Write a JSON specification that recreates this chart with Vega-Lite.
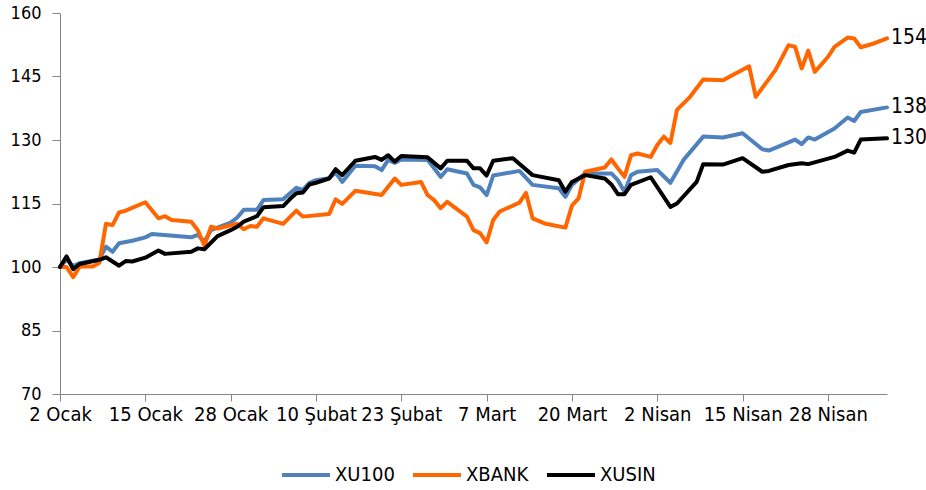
{
  "$schema": "https://vega.github.io/schema/vega-lite/v6.json",
  "width": 827,
  "height": 381,
  "autosize": "none",
  "padding": {"left": 60, "top": 13, "right": 39, "bottom": 96},
  "background": "white",
  "config": {
    "view": {"stroke": null},
    "font": "DejaVu Sans Condensed",
    "axis": {"labelFont": "DejaVu Sans Condensed", "labelColor": "#000000", "domainColor": "#868686", "tickColor": "#868686", "grid": false},
    "legend": {"labelFont": "DejaVu Sans Condensed"}
  },
  "datasets": {
    "series": [
      {"series": "XU100", "date": "2024-01-02", "value": 100},
      {"series": "XU100", "date": "2024-01-03", "value": 101.8},
      {"series": "XU100", "date": "2024-01-04", "value": 100.2},
      {"series": "XU100", "date": "2024-01-05", "value": 100.9},
      {"series": "XU100", "date": "2024-01-08", "value": 101.8},
      {"series": "XU100", "date": "2024-01-09", "value": 104.8},
      {"series": "XU100", "date": "2024-01-10", "value": 103.6},
      {"series": "XU100", "date": "2024-01-11", "value": 105.6},
      {"series": "XU100", "date": "2024-01-13", "value": 106.2},
      {"series": "XU100", "date": "2024-01-15", "value": 107.0},
      {"series": "XU100", "date": "2024-01-16", "value": 107.8},
      {"series": "XU100", "date": "2024-01-22", "value": 107.0},
      {"series": "XU100", "date": "2024-01-23", "value": 107.6},
      {"series": "XU100", "date": "2024-01-24", "value": 106.0},
      {"series": "XU100", "date": "2024-01-25", "value": 108.7},
      {"series": "XU100", "date": "2024-01-28", "value": 110.5},
      {"series": "XU100", "date": "2024-01-29", "value": 111.7},
      {"series": "XU100", "date": "2024-01-30", "value": 113.5},
      {"series": "XU100", "date": "2024-02-01", "value": 113.5},
      {"series": "XU100", "date": "2024-02-02", "value": 115.8},
      {"series": "XU100", "date": "2024-02-05", "value": 116.0},
      {"series": "XU100", "date": "2024-02-07", "value": 118.7},
      {"series": "XU100", "date": "2024-02-08", "value": 118.2},
      {"series": "XU100", "date": "2024-02-09", "value": 119.9},
      {"series": "XU100", "date": "2024-02-10", "value": 120.5},
      {"series": "XU100", "date": "2024-02-12", "value": 121.0},
      {"series": "XU100", "date": "2024-02-13", "value": 122.3},
      {"series": "XU100", "date": "2024-02-14", "value": 120.1},
      {"series": "XU100", "date": "2024-02-16", "value": 123.9},
      {"series": "XU100", "date": "2024-02-19", "value": 123.8},
      {"series": "XU100", "date": "2024-02-20", "value": 122.9},
      {"series": "XU100", "date": "2024-02-21", "value": 125.3},
      {"series": "XU100", "date": "2024-02-22", "value": 124.6},
      {"series": "XU100", "date": "2024-02-23", "value": 125.4},
      {"series": "XU100", "date": "2024-02-27", "value": 125.3},
      {"series": "XU100", "date": "2024-02-29", "value": 121.3},
      {"series": "XU100", "date": "2024-03-01", "value": 123.1},
      {"series": "XU100", "date": "2024-03-04", "value": 122.1},
      {"series": "XU100", "date": "2024-03-05", "value": 119.4},
      {"series": "XU100", "date": "2024-03-06", "value": 118.8},
      {"series": "XU100", "date": "2024-03-07", "value": 117.0},
      {"series": "XU100", "date": "2024-03-08", "value": 121.6},
      {"series": "XU100", "date": "2024-03-12", "value": 122.7},
      {"series": "XU100", "date": "2024-03-14", "value": 119.4},
      {"series": "XU100", "date": "2024-03-18", "value": 118.6},
      {"series": "XU100", "date": "2024-03-19", "value": 116.6},
      {"series": "XU100", "date": "2024-03-20", "value": 119.4},
      {"series": "XU100", "date": "2024-03-22", "value": 122.1},
      {"series": "XU100", "date": "2024-03-26", "value": 122.1},
      {"series": "XU100", "date": "2024-03-27", "value": 120.5},
      {"series": "XU100", "date": "2024-03-28", "value": 117.8},
      {"series": "XU100", "date": "2024-03-29", "value": 121.7},
      {"series": "XU100", "date": "2024-03-30", "value": 122.5},
      {"series": "XU100", "date": "2024-04-02", "value": 122.9},
      {"series": "XU100", "date": "2024-04-04", "value": 119.9},
      {"series": "XU100", "date": "2024-04-06", "value": 125.3},
      {"series": "XU100", "date": "2024-04-09", "value": 130.8},
      {"series": "XU100", "date": "2024-04-12", "value": 130.6},
      {"series": "XU100", "date": "2024-04-15", "value": 131.6},
      {"series": "XU100", "date": "2024-04-18", "value": 127.8},
      {"series": "XU100", "date": "2024-04-19", "value": 127.5},
      {"series": "XU100", "date": "2024-04-23", "value": 130.1},
      {"series": "XU100", "date": "2024-04-24", "value": 129.0},
      {"series": "XU100", "date": "2024-04-25", "value": 130.6},
      {"series": "XU100", "date": "2024-04-26", "value": 130.1},
      {"series": "XU100", "date": "2024-04-29", "value": 132.7},
      {"series": "XU100", "date": "2024-05-01", "value": 135.3},
      {"series": "XU100", "date": "2024-05-02", "value": 134.5},
      {"series": "XU100", "date": "2024-05-03", "value": 136.6},
      {"series": "XU100", "date": "2024-05-07", "value": 137.7},

      {"series": "XBANK", "date": "2024-01-02", "value": 100},
      {"series": "XBANK", "date": "2024-01-03", "value": 100.0},
      {"series": "XBANK", "date": "2024-01-04", "value": 97.6},
      {"series": "XBANK", "date": "2024-01-05", "value": 100.1},
      {"series": "XBANK", "date": "2024-01-07", "value": 100.1},
      {"series": "XBANK", "date": "2024-01-08", "value": 101.0},
      {"series": "XBANK", "date": "2024-01-09", "value": 110.2},
      {"series": "XBANK", "date": "2024-01-10", "value": 109.9},
      {"series": "XBANK", "date": "2024-01-11", "value": 112.9},
      {"series": "XBANK", "date": "2024-01-12", "value": 113.3},
      {"series": "XBANK", "date": "2024-01-15", "value": 115.3},
      {"series": "XBANK", "date": "2024-01-17", "value": 111.5},
      {"series": "XBANK", "date": "2024-01-18", "value": 112.0},
      {"series": "XBANK", "date": "2024-01-19", "value": 111.1},
      {"series": "XBANK", "date": "2024-01-22", "value": 110.7},
      {"series": "XBANK", "date": "2024-01-23", "value": 108.7},
      {"series": "XBANK", "date": "2024-01-24", "value": 105.0},
      {"series": "XBANK", "date": "2024-01-25", "value": 109.5},
      {"series": "XBANK", "date": "2024-01-26", "value": 109.1},
      {"series": "XBANK", "date": "2024-01-29", "value": 110.2},
      {"series": "XBANK", "date": "2024-01-30", "value": 108.9},
      {"series": "XBANK", "date": "2024-01-31", "value": 109.7},
      {"series": "XBANK", "date": "2024-02-01", "value": 109.5},
      {"series": "XBANK", "date": "2024-02-02", "value": 111.5},
      {"series": "XBANK", "date": "2024-02-05", "value": 110.2},
      {"series": "XBANK", "date": "2024-02-07", "value": 113.3},
      {"series": "XBANK", "date": "2024-02-08", "value": 111.9},
      {"series": "XBANK", "date": "2024-02-12", "value": 112.5},
      {"series": "XBANK", "date": "2024-02-13", "value": 116.0},
      {"series": "XBANK", "date": "2024-02-14", "value": 114.9},
      {"series": "XBANK", "date": "2024-02-16", "value": 118.0},
      {"series": "XBANK", "date": "2024-02-20", "value": 117.0},
      {"series": "XBANK", "date": "2024-02-22", "value": 120.9},
      {"series": "XBANK", "date": "2024-02-23", "value": 119.4},
      {"series": "XBANK", "date": "2024-02-26", "value": 120.1},
      {"series": "XBANK", "date": "2024-02-27", "value": 117.0},
      {"series": "XBANK", "date": "2024-02-28", "value": 115.8},
      {"series": "XBANK", "date": "2024-02-29", "value": 113.9},
      {"series": "XBANK", "date": "2024-03-01", "value": 115.4},
      {"series": "XBANK", "date": "2024-03-04", "value": 111.9},
      {"series": "XBANK", "date": "2024-03-05", "value": 108.7},
      {"series": "XBANK", "date": "2024-03-06", "value": 108.0},
      {"series": "XBANK", "date": "2024-03-07", "value": 105.8},
      {"series": "XBANK", "date": "2024-03-08", "value": 111.1},
      {"series": "XBANK", "date": "2024-03-09", "value": 113.1},
      {"series": "XBANK", "date": "2024-03-12", "value": 115.2},
      {"series": "XBANK", "date": "2024-03-13", "value": 117.5},
      {"series": "XBANK", "date": "2024-03-14", "value": 111.5},
      {"series": "XBANK", "date": "2024-03-16", "value": 110.2},
      {"series": "XBANK", "date": "2024-03-19", "value": 109.3},
      {"series": "XBANK", "date": "2024-03-20", "value": 114.5},
      {"series": "XBANK", "date": "2024-03-21", "value": 116.2},
      {"series": "XBANK", "date": "2024-03-22", "value": 122.5},
      {"series": "XBANK", "date": "2024-03-25", "value": 123.5},
      {"series": "XBANK", "date": "2024-03-26", "value": 125.4},
      {"series": "XBANK", "date": "2024-03-27", "value": 123.3},
      {"series": "XBANK", "date": "2024-03-28", "value": 121.3},
      {"series": "XBANK", "date": "2024-03-29", "value": 126.4},
      {"series": "XBANK", "date": "2024-03-30", "value": 126.8},
      {"series": "XBANK", "date": "2024-04-01", "value": 126.0},
      {"series": "XBANK", "date": "2024-04-02", "value": 128.8},
      {"series": "XBANK", "date": "2024-04-03", "value": 130.8},
      {"series": "XBANK", "date": "2024-04-04", "value": 129.3},
      {"series": "XBANK", "date": "2024-04-05", "value": 137.1},
      {"series": "XBANK", "date": "2024-04-07", "value": 140.2},
      {"series": "XBANK", "date": "2024-04-09", "value": 144.3},
      {"series": "XBANK", "date": "2024-04-12", "value": 144.1},
      {"series": "XBANK", "date": "2024-04-15", "value": 146.6},
      {"series": "XBANK", "date": "2024-04-16", "value": 147.4},
      {"series": "XBANK", "date": "2024-04-17", "value": 140.2},
      {"series": "XBANK", "date": "2024-04-20", "value": 146.5},
      {"series": "XBANK", "date": "2024-04-22", "value": 152.4},
      {"series": "XBANK", "date": "2024-04-23", "value": 152.0},
      {"series": "XBANK", "date": "2024-04-24", "value": 146.9},
      {"series": "XBANK", "date": "2024-04-25", "value": 151.1},
      {"series": "XBANK", "date": "2024-04-26", "value": 146.1},
      {"series": "XBANK", "date": "2024-04-28", "value": 149.6},
      {"series": "XBANK", "date": "2024-04-29", "value": 152.0},
      {"series": "XBANK", "date": "2024-05-01", "value": 154.2},
      {"series": "XBANK", "date": "2024-05-02", "value": 154.0},
      {"series": "XBANK", "date": "2024-05-03", "value": 151.9},
      {"series": "XBANK", "date": "2024-05-05", "value": 152.8},
      {"series": "XBANK", "date": "2024-05-07", "value": 154.0},

      {"series": "XUSIN", "date": "2024-01-02", "value": 100},
      {"series": "XUSIN", "date": "2024-01-03", "value": 102.5},
      {"series": "XUSIN", "date": "2024-01-04", "value": 99.5},
      {"series": "XUSIN", "date": "2024-01-05", "value": 100.7},
      {"series": "XUSIN", "date": "2024-01-08", "value": 101.7},
      {"series": "XUSIN", "date": "2024-01-09", "value": 102.3},
      {"series": "XUSIN", "date": "2024-01-11", "value": 100.3},
      {"series": "XUSIN", "date": "2024-01-12", "value": 101.4},
      {"series": "XUSIN", "date": "2024-01-13", "value": 101.3},
      {"series": "XUSIN", "date": "2024-01-15", "value": 102.2},
      {"series": "XUSIN", "date": "2024-01-17", "value": 103.9},
      {"series": "XUSIN", "date": "2024-01-18", "value": 103.1},
      {"series": "XUSIN", "date": "2024-01-22", "value": 103.6},
      {"series": "XUSIN", "date": "2024-01-23", "value": 104.4},
      {"series": "XUSIN", "date": "2024-01-24", "value": 104.2},
      {"series": "XUSIN", "date": "2024-01-26", "value": 107.3},
      {"series": "XUSIN", "date": "2024-01-28", "value": 108.7},
      {"series": "XUSIN", "date": "2024-01-29", "value": 109.5},
      {"series": "XUSIN", "date": "2024-01-30", "value": 110.7},
      {"series": "XUSIN", "date": "2024-02-01", "value": 112.0},
      {"series": "XUSIN", "date": "2024-02-02", "value": 114.1},
      {"series": "XUSIN", "date": "2024-02-05", "value": 114.4},
      {"series": "XUSIN", "date": "2024-02-06", "value": 116.0},
      {"series": "XUSIN", "date": "2024-02-07", "value": 117.4},
      {"series": "XUSIN", "date": "2024-02-08", "value": 117.6},
      {"series": "XUSIN", "date": "2024-02-09", "value": 119.5},
      {"series": "XUSIN", "date": "2024-02-10", "value": 119.9},
      {"series": "XUSIN", "date": "2024-02-12", "value": 120.9},
      {"series": "XUSIN", "date": "2024-02-13", "value": 123.1},
      {"series": "XUSIN", "date": "2024-02-14", "value": 121.7},
      {"series": "XUSIN", "date": "2024-02-16", "value": 125.1},
      {"series": "XUSIN", "date": "2024-02-19", "value": 126.0},
      {"series": "XUSIN", "date": "2024-02-20", "value": 125.3},
      {"series": "XUSIN", "date": "2024-02-21", "value": 126.4},
      {"series": "XUSIN", "date": "2024-02-22", "value": 124.9},
      {"series": "XUSIN", "date": "2024-02-23", "value": 126.2},
      {"series": "XUSIN", "date": "2024-02-27", "value": 125.9},
      {"series": "XUSIN", "date": "2024-02-29", "value": 123.3},
      {"series": "XUSIN", "date": "2024-03-01", "value": 125.1},
      {"series": "XUSIN", "date": "2024-03-04", "value": 125.1},
      {"series": "XUSIN", "date": "2024-03-05", "value": 123.3},
      {"series": "XUSIN", "date": "2024-03-06", "value": 123.3},
      {"series": "XUSIN", "date": "2024-03-07", "value": 121.6},
      {"series": "XUSIN", "date": "2024-03-08", "value": 125.1},
      {"series": "XUSIN", "date": "2024-03-11", "value": 125.7},
      {"series": "XUSIN", "date": "2024-03-14", "value": 121.7},
      {"series": "XUSIN", "date": "2024-03-18", "value": 120.5},
      {"series": "XUSIN", "date": "2024-03-19", "value": 117.8},
      {"series": "XUSIN", "date": "2024-03-20", "value": 120.1},
      {"series": "XUSIN", "date": "2024-03-22", "value": 121.7},
      {"series": "XUSIN", "date": "2024-03-25", "value": 120.9},
      {"series": "XUSIN", "date": "2024-03-26", "value": 119.5},
      {"series": "XUSIN", "date": "2024-03-27", "value": 117.2},
      {"series": "XUSIN", "date": "2024-03-28", "value": 117.2},
      {"series": "XUSIN", "date": "2024-03-29", "value": 119.4},
      {"series": "XUSIN", "date": "2024-04-01", "value": 121.2},
      {"series": "XUSIN", "date": "2024-04-04", "value": 114.2},
      {"series": "XUSIN", "date": "2024-04-05", "value": 115.0},
      {"series": "XUSIN", "date": "2024-04-08", "value": 120.1},
      {"series": "XUSIN", "date": "2024-04-09", "value": 124.3},
      {"series": "XUSIN", "date": "2024-04-12", "value": 124.2},
      {"series": "XUSIN", "date": "2024-04-15", "value": 125.7},
      {"series": "XUSIN", "date": "2024-04-18", "value": 122.5},
      {"series": "XUSIN", "date": "2024-04-19", "value": 122.7},
      {"series": "XUSIN", "date": "2024-04-22", "value": 124.1},
      {"series": "XUSIN", "date": "2024-04-24", "value": 124.5},
      {"series": "XUSIN", "date": "2024-04-25", "value": 124.3},
      {"series": "XUSIN", "date": "2024-04-29", "value": 126.0},
      {"series": "XUSIN", "date": "2024-05-01", "value": 127.5},
      {"series": "XUSIN", "date": "2024-05-02", "value": 127.0},
      {"series": "XUSIN", "date": "2024-05-03", "value": 130.1},
      {"series": "XUSIN", "date": "2024-05-07", "value": 130.4}
    ]
  },
  "data": {"name": "series"},
  "layer": [
    {
      "mark": {"type": "line", "strokeWidth": 4, "strokeJoin": "round", "strokeCap": "round"},
      "encoding": {
        "x": {
          "field": "date", "type": "temporal",
          "scale": {"type": "utc", "domain": [{"year": 2024, "month": 1, "date": 2, "utc": true}, {"year": 2024, "month": 5, "date": 7, "utc": true}]},
          "axis": {
            "title": null,
            "values": [
              {"year": 2024, "month": 1, "date": 2, "utc": true},
              {"year": 2024, "month": 1, "date": 15, "utc": true},
              {"year": 2024, "month": 1, "date": 28, "utc": true},
              {"year": 2024, "month": 2, "date": 10, "utc": true},
              {"year": 2024, "month": 2, "date": 23, "utc": true},
              {"year": 2024, "month": 3, "date": 7, "utc": true},
              {"year": 2024, "month": 3, "date": 20, "utc": true},
              {"year": 2024, "month": 4, "date": 2, "utc": true},
              {"year": 2024, "month": 4, "date": 15, "utc": true},
              {"year": 2024, "month": 4, "date": 28, "utc": true}
            ],
            "labelExpr": "utcdate(datum.value) + ' ' + ['Ocak','Şubat','Mart','Nisan','Mayıs'][utcmonth(datum.value)]",
            "labelFontSize": 20,
            "labelPadding": 3,
            "tickSize": 7,
            "labelOverlap": false,
            "labelFlush": false
          }
        },
        "y": {
          "field": "value", "type": "quantitative",
          "scale": {"domain": [70, 160], "nice": false, "zero": false},
          "axis": {"title": null, "values": [70, 85, 100, 115, 130, 145, 160], "labelFontSize": 18, "tickSize": 8, "labelPadding": 11}
        },
        "color": {
          "field": "series", "type": "nominal",
          "scale": {"domain": ["XU100", "XBANK", "XUSIN"], "range": ["#4F81BD", "#FF6600", "#000000"]},
          "legend": {
            "title": null,
            "orient": "none",
            "legendX": 220,
            "legendY": 436,
            "direction": "horizontal",
            "symbolType": "stroke",
            "symbolSize": 2300,
            "symbolStrokeWidth": 4,
            "labelFontSize": 20,
            "labelColor": "#000000",
            "columnPadding": 10,
            "labelOffset": 3
          }
        }
      }
    },
    {
      "transform": [{"filter": "utcmonth(datum.date) == 4 && utcdate(datum.date) == 7"}],
      "mark": {"type": "text", "align": "left", "baseline": "middle", "dx": 4, "fontSize": 21, "font": "DejaVu Sans Condensed", "color": "#000000"},
      "encoding": {
        "x": {"field": "date", "type": "temporal"},
        "y": {"field": "value", "type": "quantitative"},
        "text": {"field": "value", "type": "quantitative", "format": ".0f"}
      }
    }
  ]
}
